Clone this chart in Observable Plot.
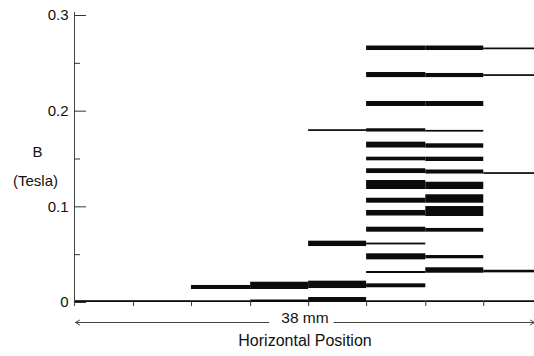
<!DOCTYPE html>
<html>
<head>
<meta charset="utf-8">
<script src="https://cdn.jsdelivr.net/npm/d3@7"></script>
<script src="https://cdn.jsdelivr.net/npm/@observablehq/plot@0.6"></script>
<style>
  html, body { margin: 0; padding: 0; background: #fff; }
  #chart { width: 534px; height: 356px; }
</style>
</head>
<body>
<div id="chart"></div>
<script>
// Column boundaries along the horizontal position (mm), spanning 38 mm
const columnEdgesMm = [0, 4.8, 9.6, 14.5, 19.3, 24.1, 29.0, 33.8, 38];

// Field levels in each column: [low, high] of B (Tesla)
const col0 = [[0, 0.0019]];
const col1 = [[0, 0.0019]];
const col2 = [[0.0136, 0.0178], [0, 0.0018]];
const col3 = [[0.0136, 0.0212], [0, 0.0026]];
const col4 = [[0.1788, 0.1806], [0.0585, 0.0641], [0.0146, 0.0223], [0, 0.0052]];
const col5 = [
  [0.2634, 0.2681], [0.2351, 0.2404], [0.2049, 0.2101], [0.1782, 0.1816],
  [0.1615, 0.1676], [0.1481, 0.1519], [0.1348, 0.1398], [0.1181, 0.1275],
  [0.1038, 0.1090], [0.0904, 0.0962], [0.0735, 0.0787], [0.0602, 0.0621],
  [0.0446, 0.0509], [0.0303, 0.0324], [0.0154, 0.0195], [0, 0.0018]
];
const col6 = [
  [0.2634, 0.2681], [0.2351, 0.2394], [0.2049, 0.2101], [0.1781, 0.1799],
  [0.1613, 0.1659], [0.1474, 0.1519], [0.1343, 0.1385], [0.1181, 0.1257],
  [0.1038, 0.1126], [0.0899, 0.1003], [0.0735, 0.0774], [0.0457, 0.0491],
  [0.0306, 0.0363], [0, 0.0018]
];
const col7 = [[0.2642, 0.2660], [0.2363, 0.2381], [0.1339, 0.1357], [0.0310, 0.0337], [0, 0.0018]];

const majorTicks = [0, 0.1, 0.2, 0.3];
const minorTicks = [0.05, 0.15, 0.25];
const spanLabel = "38 mm";
const xTitle = "Horizontal Position";
const yTitle = "B";
const yUnit = "(Tesla)";
// the dimension arrow: gap around the "38 mm" label, heads at both ends
const spanArrows = [{from: 16.0, to: 0}, {from: 21.4, to: 38}];

const columns = [col0, col1, col2, col3, col4, col5, col6, col7];
const segments = columns.flatMap((levels, i) =>
  levels.map(([lo, hi]) => ({x1: columnEdgesMm[i], x2: columnEdgesMm[i + 1], lo, hi}))
);
const innerEdges = columnEdgesMm.slice(1, -1);

const font = "'Liberation Sans', Arial, Helvetica, sans-serif";

const chart = Plot.plot({
  width: 534,
  height: 356,
  marginLeft: 75,
  marginRight: 0,
  marginTop: 15,
  marginBottom: 54,
  x: {domain: [0, 38], axis: null},
  y: {domain: [0, 0.3], ticks: majorTicks, tickSize: 0, tickPadding: 7,
      tickFormat: d => d === 0 ? "0" : d.toFixed(1), label: null},
  style: {fontFamily: font, fontSize: "15px", color: "#111", background: "#fff"},
  marks: [
    Plot.rect(segments, {x1: "x1", x2: "x2", y1: "lo", y2: "hi", fill: "#0b0b0b"}),
    // vertical axis line
    Plot.ruleX([0], {stroke: "#444", strokeWidth: 1, insetTop: -3, insetBottom: -4, dx: -1}),
    // inward ticks on the B axis
    Plot.ruleY(majorTicks, {x1: 0, x2: 0, insetRight: -12, dx: -1, stroke: "#333", strokeWidth: 1}),
    Plot.ruleY(minorTicks, {x1: 0, x2: 0, insetRight: -6, dx: -1, stroke: "#333", strokeWidth: 1}),
    // small ticks at the column boundaries
    Plot.ruleX(innerEdges, {y1: 0, y2: 0, insetBottom: -4, stroke: "#333", strokeWidth: 1}),
    // 38 mm dimension arrow
    Plot.arrow(spanArrows, {x1: "from", x2: "to", y1: 0, y2: 0, dy: 20,
      stroke: "#444", strokeWidth: 1, headLength: 7}),
    Plot.text([spanLabel], {frameAnchor: "bottom", textAnchor: "middle", dy: 20, fontSize: 15.5, fill: "#111"}),
    Plot.text([xTitle], {frameAnchor: "bottom", textAnchor: "middle", dy: 43, fontSize: 16, fill: "#111"}),
    Plot.text([yTitle], {frameAnchor: "top-left", textAnchor: "middle", dx: -38, dy: 131, fontSize: 15, fill: "#111"}),
    Plot.text([yUnit], {frameAnchor: "top-left", textAnchor: "middle", dx: -40, dy: 160, fontSize: 15, fill: "#111"})
  ]
});

document.getElementById("chart").appendChild(chart);
</script>
</body>
</html>
